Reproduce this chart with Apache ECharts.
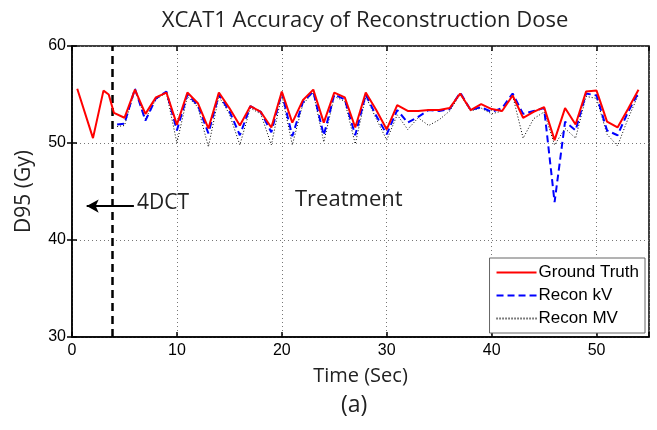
<!DOCTYPE html>
<html><head><meta charset="utf-8">
<script src="https://cdn.jsdelivr.net/npm/echarts@6/dist/echarts.min.js"></script>
<style>html,body{margin:0;padding:0;background:#fff}#c{width:657px;height:430px}</style>
</head><body><div id="c"></div>
<script>
var gtTime = [0.5,2,3,3.5,4,5,6,7,8,9,10,11,12,13,14,15,16,17,18,19,20,21,22,23,24,25,26,27,28,29,30,31,32,33,34,35,36,37,38,39,40,41,42,43,44,45,46,47,48,49,50,51,52,53,54];
var gtVals = [55.6,50.5,55.4,55.0,53.1,52.6,55.5,53.0,54.7,55.2,51.9,55.2,54.1,51.5,55.2,53.6,51.8,53.8,53.2,51.6,55.3,52.1,54.4,55.5,52.1,55.2,54.7,51.6,55.2,53.4,51.4,53.9,53.3,53.3,53.4,53.4,53.6,55.1,53.4,54.0,53.5,53.3,54.9,52.6,53.2,53.7,50.3,53.6,51.9,55.3,55.4,52.2,51.6,53.5,55.5];
var reconTime = [4.3,5,6,7,8,9,10,11,12,13,14,15,16,17,18,19,20,21,22,23,24,25,26,27,28,29,30,31,32,33,34,35,36,37,38,39,40,41,42,43,44,45,46,47,48,49,50,51,52,53,54];
var kvVals = [51.9,52.0,55.6,52.3,54.6,55.3,51.3,55.0,53.9,51.0,55.0,53.3,50.8,53.8,53.2,51.1,55.2,50.7,54.2,55.3,50.8,55.0,54.5,50.8,55.0,52.8,50.9,53.4,52.1,52.7,53.4,53.3,53.5,55.2,53.4,53.7,53.2,53.6,55.1,53.0,53.3,53.6,43.9,52.2,51.3,55.1,54.9,51.3,50.8,53.2,55.2];
var mvVals = [51.7,51.8,55.5,52.5,54.5,55.2,50.0,54.8,53.7,49.6,54.8,53.0,49.8,53.6,53.0,49.8,55.0,49.8,54.0,55.2,50.1,54.8,54.3,49.9,54.8,52.5,50.3,52.9,51.4,52.6,51.8,52.4,53.3,55.0,53.3,53.6,53.0,53.3,54.9,50.5,52.5,53.2,49.8,51.5,50.5,54.8,54.6,50.9,49.7,52.5,55.0];
var xTicks = [0,10,20,30,40,50];
var yTicks = [30,40,50,60];
var splitTime = 3.8;
var arrowY = 43.5;

function pairs(t, v){ return t.map(function(x,i){ return [x, v[i]]; }); }

var chart = echarts.init(document.getElementById('c'), null, {renderer:'canvas'});
var tickFont = {fontFamily:'Liberation Sans, Arial, sans-serif', fontSize:16, color:'#000'};
var labelFont = 'Open Sans, sans-serif';
chart.setOption({
  animation:false,
  backgroundColor:'#fff',
  title:{text:'XCAT1 Accuracy of Reconstruction Dose', left:360, textAlign:'center', top:5,
    textStyle:{fontFamily:labelFont, fontSize:22, fontWeight:'normal', color:'#222'}},
  grid:{left:72, right:8, top:46, bottom:93, show:true, borderColor:'#000', borderWidth:1.5, backgroundColor:'transparent'},
  legend:{orient:'vertical', right:12, top:258, padding:[6,6,6,6], itemGap:6, itemWidth:40, itemHeight:14,
    backgroundColor:'#fff', borderColor:'#666', borderWidth:1, borderRadius:0,
    itemStyle:{opacity:0},
    textStyle:{fontFamily:'Liberation Sans, Arial, sans-serif', fontSize:17, color:'#000', padding:[0,0,0,-3]},
    data:['Ground Truth','Recon kV','Recon MV']},
  xAxis:[{type:'value', min:0, max:55, interval:10, position:'bottom',
    name:'Time (Sec)', nameLocation:'middle', nameGap:29,
    nameTextStyle:{fontFamily:labelFont, fontSize:20, color:'#222'},
    axisLine:{show:true, lineStyle:{color:'#000', width:1.5}},
    axisTick:{show:true, inside:true, length:5, lineStyle:{color:'#000', width:1.5}},
    axisLabel:Object.assign({margin:6, formatter:function(v){return xTicks.indexOf(v)>=0?String(v):'';}}, tickFont),
    splitLine:{show:true, lineStyle:{color:'#777', type:[1,3], width:1}}},
   {type:'value', min:0, max:55, interval:10, position:'top',
    axisLine:{show:false}, axisLabel:{show:false}, splitLine:{show:false},
    axisTick:{show:true, inside:true, length:5, lineStyle:{color:'#000', width:1.5}}}],
  yAxis:[{type:'value', min:30, max:60, interval:10, position:'left',
    name:'D95 (Gy)', nameLocation:'middle', nameGap:37,
    nameTextStyle:{fontFamily:labelFont, fontSize:21, color:'#222'},
    axisLine:{show:true, lineStyle:{color:'#000', width:1.5}},
    axisTick:{show:true, inside:true, length:5, lineStyle:{color:'#000', width:1.5}},
    axisLabel:Object.assign({margin:6, formatter:function(v){return yTicks.indexOf(v)>=0?String(v):'';}}, tickFont),
    splitLine:{show:true, lineStyle:{color:'#777', type:[1,3], width:1}}},
   {type:'value', min:30, max:60, interval:10, position:'right',
    axisLine:{show:false}, axisLabel:{show:false}, splitLine:{show:false},
    axisTick:{show:true, inside:true, length:5, lineStyle:{color:'#000', width:1.5}}}],
  series:[
    {name:'Ground Truth', type:'line', z:5, data:pairs(gtTime, gtVals), symbol:'none', showSymbol:false,
     lineStyle:{color:'#ff0000', width:2}, itemStyle:{color:'#ff0000'},
     markLine:{silent:true, symbol:['none','none'], label:{show:false},
       lineStyle:{color:'#000', type:[8,5], width:2.5},
       data:[{xAxis:splitTime}]}},
    {name:'Recon kV', type:'line', z:4, data:pairs(reconTime, kvVals), symbol:'none', showSymbol:false,
     lineStyle:{color:'#0000ff', width:2, type:[7,4]}, itemStyle:{color:'#0000ff'},
     markLine:{silent:true, symbol:['none','arrow'], symbolSize:[10,12], label:{show:false},
       lineStyle:{color:'#000', type:'solid', width:2},
       data:[[{coord:[5.9, arrowY]},{coord:[1.4, arrowY]}]]}},
    {name:'Recon MV', type:'line', z:3, data:pairs(reconTime, mvVals), symbol:'none', showSymbol:false,
     lineStyle:{color:'#000', width:1, type:[1,2]}, itemStyle:{color:'#000'}}
  ],
  graphic:[
    {type:'text', left:137, top:193, style:{text:'4DCT', fontFamily:labelFont, fontSize:21, fill:'#222'}},
    {type:'text', left:295, top:189, style:{text:'Treatment', fontFamily:labelFont, fontSize:22, fill:'#222'}},
    {type:'text', left:341, top:394, style:{text:'(a)', fontFamily:labelFont, fontSize:23, fill:'#222'}}
  ]
});
</script></body></html>
